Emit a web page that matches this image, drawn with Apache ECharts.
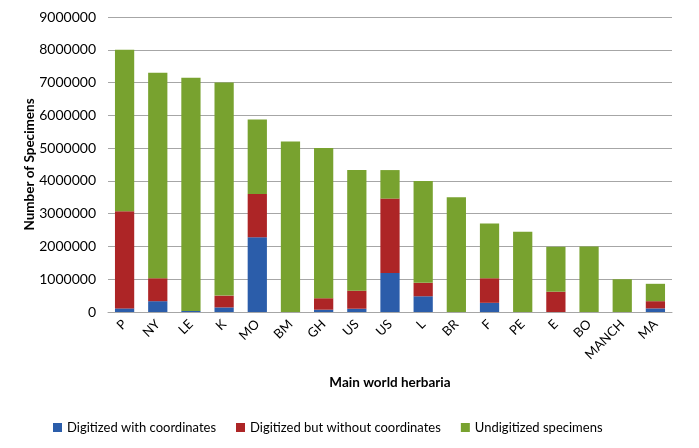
<!DOCTYPE html>
<html><head><meta charset="utf-8">
<script src="https://cdn.jsdelivr.net/npm/echarts@6/dist/echarts.min.js"></script>
<style>html,body{margin:0;padding:0;background:#fff}#c{width:699px;height:448px}</style>
</head><body><div id="c"></div>
<script>
var categories = ['P','NY','LE','K','MO','BM','GH','US','US','L','BR','F','PE','E','BO','MANCH','MA'];
var withCoords = [110000,330000,30000,140000,2280000,0,70000,100000,1190000,480000,0,280000,0,0,0,0,110000];
var withoutCoords = [2960000,700000,0,360000,1320000,0,350000,550000,2270000,410000,0,750000,0,620000,0,0,220000];
var undigitized = [4930000,6270000,7120000,6500000,2270000,5200000,4580000,3680000,870000,3110000,3500000,1670000,2450000,1370000,2000000,1000000,530000];
var seriesNames = ['Digitized with coordinates','Digitized but without coordinates','Undigitized specimens'];
var colors = ['#2B5DAA','#AD2526','#78A22F'];
var font = 'Lato, "Open Sans", sans-serif';
var chart = echarts.init(document.getElementById('c'));
var dataSets = [withCoords, withoutCoords, undigitized];
chart.setOption({
  animation:false,
  textStyle:{fontFamily:font},
  grid:{left:108,right:27,top:17,bottom:136},
  legend:{
    left:48, top:416, itemWidth:9, itemHeight:9, itemGap:20, icon:'rect',
    textStyle:{fontSize:13,color:'#000',fontFamily:font},
    data:seriesNames
  },
  xAxis:{
    type:'category', data:categories,
    name:'Main world herbaria', nameLocation:'middle', nameGap:64, nameMoveOverlap:false,
    nameTextStyle:{fontSize:13.5,fontWeight:'bold',color:'#000',fontFamily:font},
    axisLine:{lineStyle:{color:'#A6A6A6',width:1}},
    axisTick:{show:false},
    axisLabel:{rotate:45,fontSize:13,color:'#000',margin:10,interval:0,fontFamily:font}
  },
  yAxis:{
    type:'value', min:0, max:9000000, interval:1000000,
    name:'Number of Specimens', nameLocation:'middle', nameGap:71, nameMoveOverlap:false,
    nameTextStyle:{fontSize:13.5,fontWeight:'bold',color:'#000',fontFamily:font},
    axisLine:{show:false},
    axisTick:{show:false},
    axisLabel:{fontSize:14,color:'#000',margin:12,fontFamily:font,formatter:function(v){return String(v);}},
    splitLine:{lineStyle:{color:'#A6A6A6',width:1}}
  },
  series: dataSets.map(function(d,i){
    return {
      name:seriesNames[i], type:'bar', stack:'total', data:d,
      barCategoryGap:'42%',
      itemStyle:{color:colors[i]}
    };
  })
});
</script></body></html>
